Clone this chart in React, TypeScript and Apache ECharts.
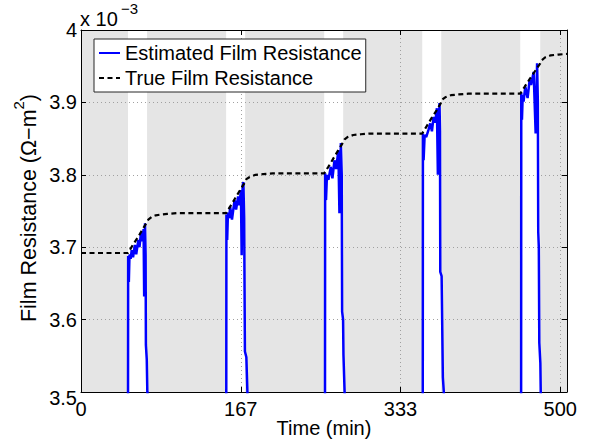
import React, { useEffect, useRef } from "react";
import * as echarts from "echarts";

const FONT = "'Liberation Sans', Arial, Helvetica, sans-serif";

const X_MIN = 0;
const X_MAX = 507;
const X_INTERVAL = 500 / 3;
const Y_MIN = 3.5;
const Y_MAX = 4.0;
const Y_INTERVAL = 0.1;

// white (unshaded) time windows [start, end] in minutes
const whiteWindows: [number, number][] = [
  [49.06, 68.9],
  [151.4, 171.2],
  [253.7, 273.5],
  [356.0, 375.8],
  [458.2, 479.1],
];

// estimated film resistance (x 1e-3), read per window
const estW1: [number, number][] = [
  [49.0, 3.4], [49.2, 3.688], [49.9, 3.652], [50.6, 3.69], [51.8, 3.684], [52.9, 3.696],
  [54.3, 3.686], [56.2, 3.703], [57.6, 3.69], [59.8, 3.71], [61.0, 3.7], [62.6, 3.72],
  [64.0, 3.708], [65.3, 3.725], [65.9, 3.632], [66.8, 3.733], [67.4, 3.69], [67.7, 3.565],
  [68.6, 3.545], [69.2, 3.5], [70.2, 3.49], [70.4, 3.4],
];
const estW2: [number, number][] = [
  [151.5, 3.4], [151.7, 3.745], [152.5, 3.71], [153.3, 3.748], [154.6, 3.74], [155.6, 3.756],
  [157.5, 3.738], [160.2, 3.765], [161.8, 3.752], [163.9, 3.77], [165.2, 3.758], [166.8, 3.779],
  [167.6, 3.689], [168.6, 3.785], [169.4, 3.79], [170.2, 3.74], [171.0, 3.556], [172.5, 3.548],
  [173.6, 3.5], [174.0, 3.4],
];
const estW3: [number, number][] = [
  [254.5, 3.4], [254.7, 3.802], [255.6, 3.765], [256.6, 3.8], [258.1, 3.793], [260.6, 3.811],
  [262.3, 3.795], [264.4, 3.82], [266.2, 3.808], [268.5, 3.834], [269.6, 3.747], [271.1, 3.844],
  [272.0, 3.8], [272.4, 3.611], [273.4, 3.6], [273.8, 3.551], [275.0, 3.5], [275.6, 3.4],
];
const estW4: [number, number][] = [
  [356.5, 3.4], [356.7, 3.857], [357.4, 3.82], [358.5, 3.855], [360.1, 3.852], [362.5, 3.862],
  [364.3, 3.871], [366.1, 3.86], [367.8, 3.88], [369.5, 3.872], [371.3, 3.892], [372.3, 3.8],
  [374.0, 3.899], [374.5, 3.86], [374.8, 3.666], [376.2, 3.66], [377.5, 3.52], [378.5, 3.5],
  [378.9, 3.4],
];
const estW5: [number, number][] = [
  [459.1, 3.4], [459.3, 3.913], [460.0, 3.876], [460.8, 3.91], [461.7, 3.901], [463.5, 3.922],
  [465.9, 3.906], [468.0, 3.931], [469.5, 3.924], [472.2, 3.942], [474.3, 3.857], [475.8, 3.954],
  [476.6, 3.9], [477.0, 3.721], [477.6, 3.7], [478.1, 3.568], [479.2, 3.54], [479.6, 3.5],
  [480.0, 3.4],
];

// true film resistance (x 1e-3)
const trueResistance: [number, number][] = [
  [0, 3.692], [49.06, 3.692], [54, 3.703], [59, 3.713], [64, 3.724], [68.9, 3.735],
  [70.2, 3.738], [74, 3.742], [78, 3.744], [82.5, 3.745], [90, 3.746], [99.5, 3.747],
  [151.4, 3.747], [156, 3.757], [161, 3.768], [166, 3.779], [171.2, 3.79], [172.5, 3.794],
  [176, 3.797], [182, 3.8], [190, 3.801], [200, 3.802], [253.7, 3.802], [258, 3.811],
  [263, 3.822], [268, 3.833], [273.5, 3.845], [275, 3.849], [278, 3.852], [284, 3.855],
  [292, 3.856], [302, 3.857], [356.0, 3.857], [361, 3.868], [366, 3.879], [371, 3.889],
  [375.8, 3.9], [377, 3.904], [380, 3.907], [386, 3.91], [394, 3.911], [404, 3.912],
  [458.2, 3.912], [463, 3.922], [468, 3.932], [473, 3.942], [479.1, 3.954], [480.5, 3.958],
  [484, 3.962], [490, 3.965], [498, 3.966], [507, 3.967],
];

const legendNames = ["Estimated Film Resistance", "True Film Resistance"];
const xLabel = "Time (min)";
const yLabelMain = "Film Resistance (Ω−m";
const exponentText = "−3";

export default function App() {
  const ref = useRef<HTMLDivElement>(null);

  useEffect(() => {
    if (!ref.current) return;
    const chart = echarts.init(ref.current, null, { renderer: "svg" });

    const graySegments: [number, number][] = [];
    let prev = X_MIN;
    for (const [a, b] of whiteWindows) {
      graySegments.push([prev, a]);
      prev = b;
    }
    graySegments.push([prev, X_MAX]);

    const estimated = [...estW1, ...estW2, ...estW3, ...estW4, ...estW5];

    const axisLineStyle = { color: "#000", width: 1 };
    const gridLine = { show: true, showMinLine: false, showMaxLine: false, lineStyle: { color: "#a0a0a0", type: [1, 3], width: 1 } };

    chart.setOption({
      animation: false,
      backgroundColor: "#fff",
      grid: { left: 81, right: 28, top: 30, bottom: 52, containLabel: false },
      xAxis: [
        {
          type: "value", min: X_MIN, max: X_MAX, interval: X_INTERVAL, position: "bottom", z: 3,
          axisLine: { show: true, onZero: false, lineStyle: axisLineStyle },
          axisTick: { show: true, inside: true, length: 5, lineStyle: axisLineStyle },
          axisLabel: {
            fontSize: 20, color: "#000", fontFamily: FONT, margin: 7, showMaxLabel: false,
            formatter: (v: number) => String(Math.round(v)),
          },
          splitLine: gridLine,
        },
        {
          type: "value", min: X_MIN, max: X_MAX, interval: X_INTERVAL, position: "top", z: 3,
          axisLine: { show: true, onZero: false, lineStyle: axisLineStyle },
          axisTick: { show: true, inside: true, length: 5, lineStyle: axisLineStyle },
          axisLabel: { show: false },
          splitLine: { show: false },
        },
      ],
      yAxis: [
        {
          type: "value", min: Y_MIN, max: Y_MAX, interval: Y_INTERVAL, position: "left", z: 3,
          axisLine: { show: true, onZero: false, lineStyle: axisLineStyle },
          axisTick: { show: true, inside: true, length: 5, lineStyle: axisLineStyle },
          axisLabel: {
            fontSize: 20, color: "#000", fontFamily: FONT, margin: 4,
            formatter: (v: number) => {
              if (Math.abs(v - Y_MAX) < 1e-9) return "4";
              if (Math.abs(v - Y_MIN) < 1e-9) return "{low|" + v.toFixed(1) + "}";
              return v.toFixed(1);
            },
            rich: {
              low: { fontSize: 20, fontFamily: FONT, color: "#000", padding: [12, 0, 0, 0] },
            },
          },
          splitLine: gridLine,
        },
        {
          type: "value", min: Y_MIN, max: Y_MAX, interval: Y_INTERVAL, position: "right", z: 3,
          axisLine: { show: true, onZero: false, lineStyle: axisLineStyle },
          axisTick: { show: true, inside: true, length: 5, lineStyle: axisLineStyle },
          axisLabel: { show: false },
          splitLine: { show: false },
        },
      ],
      legend: {
        data: legendNames,
        orient: "vertical",
        left: 94,
        top: 39,
        padding: [4, 4, 4, 4],
        itemWidth: 21,
        itemHeight: 14,
        itemGap: 5,
        backgroundColor: "#fff",
        borderColor: "#262626",
        borderWidth: 1,
        borderRadius: 0,
        z: 10,
        itemStyle: { opacity: 0 },
        textStyle: { fontSize: 20, color: "#000", fontFamily: FONT },
      },
      series: [
        {
          type: "custom",
          name: "shade",
          xAxisIndex: 0,
          yAxisIndex: 0,
          z: 1,
          silent: true,
          data: graySegments,
          encode: { x: [0, 1] },
          renderItem: (_params: any, api: any) => {
            const p0 = api.coord([api.value(0), Y_MAX]);
            const p1 = api.coord([api.value(1), Y_MIN]);
            return {
              type: "rect",
              shape: { x: p0[0], y: p0[1], width: p1[0] - p0[0], height: p1[1] - p0[1] },
              style: { fill: "#e5e5e5" },
            };
          },
        },
        {
          type: "line",
          name: legendNames[0],
          xAxisIndex: 0,
          yAxisIndex: 0,
          z: 5,
          data: estimated,
          showSymbol: false,
          symbol: "none",
          clip: true,
          lineStyle: { color: "#0000ff", width: 2.5 },
          itemStyle: { color: "#0000ff" },
        },
        {
          type: "line",
          name: legendNames[1],
          xAxisIndex: 0,
          yAxisIndex: 0,
          z: 6,
          data: trueResistance,
          showSymbol: false,
          symbol: "none",
          clip: true,
          lineStyle: { color: "#000", width: 2.2, type: [5, 3.5] },
          itemStyle: { color: "#000" },
        },
      ],
      graphic: [
        {
          type: "text",
          x: 80,
          y: 9,
          z: 10,
          style: { text: "x 10", fontSize: 20, fontFamily: FONT, fill: "#000", verticalAlign: "top", align: "left" },
        },
        {
          type: "text",
          x: 121,
          y: 1,
          z: 10,
          style: { text: exponentText, fontSize: 15, fontFamily: FONT, fill: "#000", verticalAlign: "top", align: "left" },
        },
        {
          type: "text",
          x: 324,
          y: 428,
          z: 10,
          style: { text: xLabel, fontSize: 20, fontFamily: FONT, fill: "#000", verticalAlign: "middle", align: "center" },
        },
        {
          type: "text",
          x: 25,
          y: 208,
          rotation: Math.PI / 2,
          z: 10,
          style: {
            text: "{a|" + yLabelMain + "}{sup|2}{a|)}",
            fontFamily: FONT,
            fill: "#000",
            align: "center",
            verticalAlign: "middle",
            rich: {
              a: { fontSize: 21.5, lineHeight: 29, fontFamily: FONT, fill: "#000", verticalAlign: "bottom" },
              sup: { fontSize: 15, lineHeight: 15, fontFamily: FONT, fill: "#000", verticalAlign: "top" },
            },
          },
        },
      ],
    });

    return () => chart.dispose();
  }, []);

  return <div ref={ref} style={{ position: "absolute", left: 0, top: 0, width: 595, height: 444 }} />;
}
